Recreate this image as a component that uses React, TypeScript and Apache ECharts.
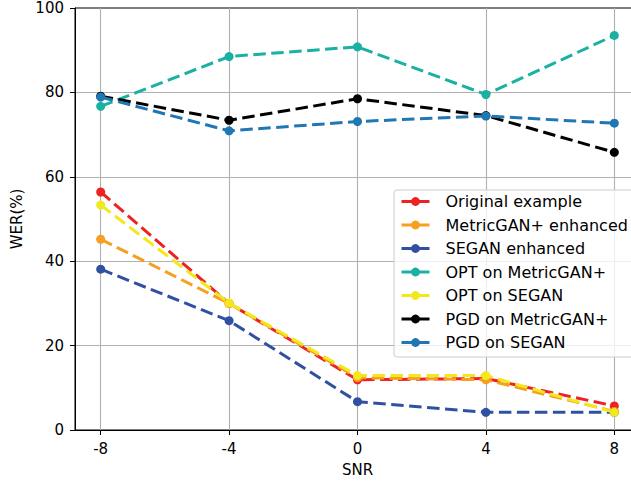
import { useEffect, useRef } from "react";
import * as echarts from "echarts";

const snr = [-8, -4, 0, 4, 8];
const xTicks = [-8, -4, 0, 4, 8];
const yTicks = [0, 20, 40, 60, 80, 100];

const original = [56.4, 30.0, 11.9, 12.2, 5.7];
const metricganEnh = [45.2, 30.0, 12.4, 11.9, 4.4];
const seganEnh = [38.1, 25.9, 6.7, 4.2, 4.2];
const optMetric = [76.7, 88.5, 90.8, 79.5, 93.5];
const optSegan = [53.3, 30.1, 12.9, 12.9, 4.2];
const pgdMetric = [79.1, 73.4, 78.5, 74.5, 65.8];
const pgdSegan = [78.9, 70.9, 73.1, 74.4, 72.7];

const seriesNames = [
  "Original example",
  "MetricGAN+ enhanced",
  "SEGAN enhanced",
  "OPT on MetricGAN+",
  "OPT on SEGAN",
  "PGD on MetricGAN+",
  "PGD on SEGAN",
];
const seriesValues = [original, metricganEnh, seganEnh, optMetric, optSegan, pgdMetric, pgdSegan];
const seriesColors = ["#ee2222", "#f5a020", "#3050a2", "#1ab0a2", "#f2e81c", "#000000", "#1f77b4"];

const FONT = "DejaVu Sans";

export default function App() {
  const ref = useRef<HTMLDivElement>(null);
  useEffect(() => {
    const chart = echarts.init(ref.current!, null, { renderer: "svg" });
    chart.setOption({
      animation: false,
      backgroundColor: "#ffffff",
      textStyle: { fontFamily: FONT },
      grid: {
        left: 75,
        top: 8,
        width: 565,
        height: 422,
        show: true,
        borderColor: "#000",
        borderWidth: 1,
        backgroundColor: "transparent",
      },
      legend: {
        orient: "vertical",
        left: 394,
        top: 190,
        padding: [3, 8, 6, 6],
        itemWidth: 28,
        itemHeight: 11,
        itemGap: 6.5,
        backgroundColor: "rgba(255,255,255,0.8)",
        borderColor: "#cccccc",
        borderWidth: 1,
        borderRadius: 3,
        lineStyle: { type: "solid", width: 3 },
        textStyle: {
          fontFamily: FONT,
          fontSize: 16,
          color: "#000",
          lineHeight: 17,
          padding: [0, 0, 0, 11],
        },
        data: seriesNames,
      },
      xAxis: {
        type: "value",
        min: -8.8,
        max: 8.8,
        minInterval: 4,
        maxInterval: 4,
        name: "SNR",
        nameLocation: "middle",
        nameGap: 32,
        nameTextStyle: { fontFamily: FONT, fontSize: 15, color: "#000" },
        axisLine: { show: true, onZero: false, lineStyle: { color: "#000", width: 1 } },
        axisTick: { show: true, length: 5, lineStyle: { color: "#000" }, customValues: xTicks },
        axisLabel: {
          fontFamily: FONT,
          fontSize: 15,
          color: "#000",
          margin: 11,
          customValues: xTicks,
        },
        splitLine: { show: true, lineStyle: { color: "#b0b0b0", width: 1.1 } },
      },
      yAxis: {
        type: "value",
        min: 0,
        max: 100,
        interval: 20,
        name: "WER(%)",
        nameLocation: "middle",
        nameGap: 47,
        nameTextStyle: { fontFamily: FONT, fontSize: 15, color: "#000" },
        axisLine: { show: true, onZero: false, lineStyle: { color: "#000", width: 1 } },
        axisTick: { show: true, length: 5, lineStyle: { color: "#000" } },
        axisLabel: {
          fontFamily: FONT,
          fontSize: 15,
          color: "#000",
          margin: 11,
          customValues: yTicks,
        },
        splitLine: {
          show: true,
          showMinLine: false,
          showMaxLine: false,
          lineStyle: { color: "#b0b0b0", width: 1.1 },
        },
      },
      series: seriesNames.map((name, i) => ({
        name,
        type: "line",
        data: snr.map((x, j) => [x, seriesValues[i][j]]),
        symbol: "circle",
        symbolSize: 9,
        color: seriesColors[i],
        itemStyle: { color: seriesColors[i] },
        lineStyle: { color: seriesColors[i], width: 3, type: [12.5, 5.5] },
        emphasis: { disabled: true },
        z: 2 + i * 0.01,
        zlevel: 0,
      })),
    });
    return () => chart.dispose();
  }, []);
  return (
    <div
      style={{
        position: "fixed",
        left: 0,
        top: 0,
        width: 631,
        height: 482,
        overflow: "hidden",
        background: "#fff",
      }}
    >
      <div ref={ref} style={{ width: 642, height: 482 }} />
    </div>
  );
}
